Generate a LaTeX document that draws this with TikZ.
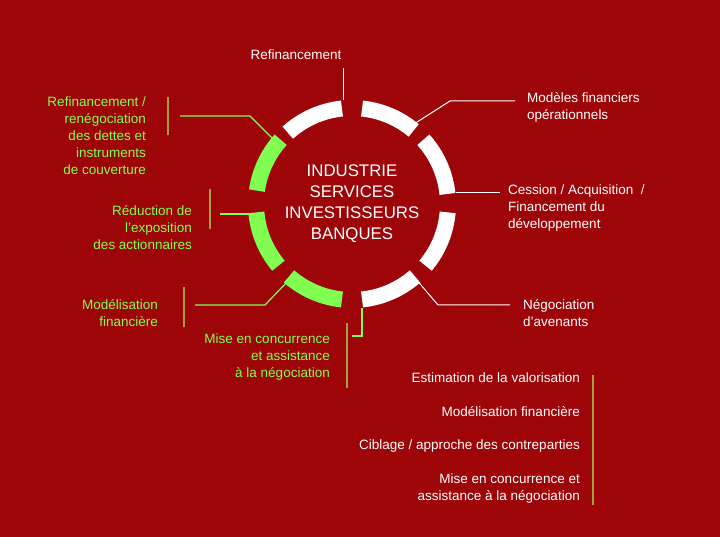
\documentclass[tikz,border=0pt]{standalone}
\usepackage{fontspec}
\setmainfont{Liberation Sans}
\usetikzlibrary{positioning,calc}
\definecolor{bgred}{HTML}{9E0508}
\definecolor{lgreen}{HTML}{80FF50}
\definecolor{olive}{HTML}{A8A040}

\begin{document}
\begin{tikzpicture}[
    x=1pt, y=-1pt,
    every node/.style={font=\fontsize{13.5}{17}\selectfont, inner sep=0pt},
    ring/.style={line width=16pt},
    wlab/.style={text=white},
    glab/.style={text=lgreen},
    wline/.style={draw=white, line width=1pt},
    gline/.style={draw=lgreen, line width=1.2pt},
    bar/.style={draw=olive, line width=1.2pt}
]

% Background and frame
\fill[bgred] (0,0) rectangle (720,537);

% Centre of the ring
\coordinate (C) at (352,204);

% Ring segments (angles measured counterclockwise)
\foreach \a/\b/\c in {96/132/white, 50/84/white, 6/42/white, -40/-5/white, -84/-49/white,
    -131/-96/lgreen, -175/-140/lgreen, 138/172/lgreen} {
    \draw[ring, \c] ($(C)+(-\a:96)$) arc[start angle=-\a, end angle=-\b, radius=96];
}

% Centre text
\node[wlab, align=center, font=\fontsize{16.8}{21}\selectfont] (core) at (C) {INDUSTRIE\\SERVICES\\INVESTISSEURS\\BANQUES};

% White labels (right side)
\node[wlab] (refi) at (296,55) {Refinancement};
\node[wlab, anchor=west, align=left] (mod) at (527,107) {Modèles financiers\\opérationnels};
\node[wlab, anchor=west, align=left] (cess) at (508,208) {Cession / Acquisition~~/\\Financement du\\développement};
\node[wlab, anchor=west, align=left] (nego) at (523,313) {Négociation\\d’avenants};

% Connectors to white labels
\coordinate (r1) at (343,100);
\coordinate (r2) at (343,68);
\draw[wline] (r1) -- (r2);
\coordinate (m1) at (414,124);
\coordinate (m2) at (450,101);
\coordinate (m3) at (515,101);
\draw[wline] (m1) -- (m2) -- (m3);
\coordinate (c1) at (456,193);
\coordinate (c2) at (500,193);
\draw[wline] (c1) -- (c2);
\coordinate (n1) at (415,278);
\coordinate (n2) at (438,305);
\coordinate (n3) at (510,305);
\draw[wline] (n1) -- (n2) -- (n3);

% Green labels (left side)
\node[glab, anchor=east, align=right] (reneg) at (146,136) {Refinancement /\\renégociation\\des dettes et\\instruments\\de couverture};
\node[glab, anchor=east, align=right] (redu) at (192,228) {Réduction de\\l’exposition\\des actionnaires};
\node[glab, anchor=east, align=right] (modf) at (158,313) {Modélisation\\financière};
\node[glab, anchor=east, align=right] (mise) at (330,357) {Mise en concurrence\\et assistance\\à la négociation};

% Olive bars
\draw[bar] (168,97) -- (168,135);
\draw[bar] (210,189) -- (210,229);
\draw[bar] (184,287) -- (184,327);
\draw[bar] (347,323) -- (347,388);
\draw[bar] (593,375) -- (593,505);

% Connectors to green labels
\coordinate (g1) at (272,138);
\coordinate (g2) at (250,116);
\coordinate (g3) at (180,116);
\draw[gline] (g1) -- (g2) -- (g3);
\coordinate (e1) at (250,214);
\coordinate (e2) at (220,214);
\draw[gline] (e1) -- (e2);
\coordinate (f1) at (288,281);
\coordinate (f2) at (265,305);
\coordinate (f3) at (195,305);
\draw[gline] (f1) -- (f2) -- (f3);
\coordinate (h1) at (362,308);
\coordinate (h2) at (362,336);
\coordinate (h3) at (352,336);
\draw[gline] (h1) -- (h2) -- (h3);

% Bottom-right list
\node[wlab, anchor=east] (est) at (580,378) {Estimation de la valorisation};
\node[wlab, anchor=east] (modl) at (580,412) {Modélisation financière};
\node[wlab, anchor=east] (cibl) at (580,446) {Ciblage / approche des contreparties};
\node[wlab, anchor=east, align=right] (misel) at (580,489) {Mise en concurrence et~\\assistance à la négociation};

\end{tikzpicture}
\end{document}
